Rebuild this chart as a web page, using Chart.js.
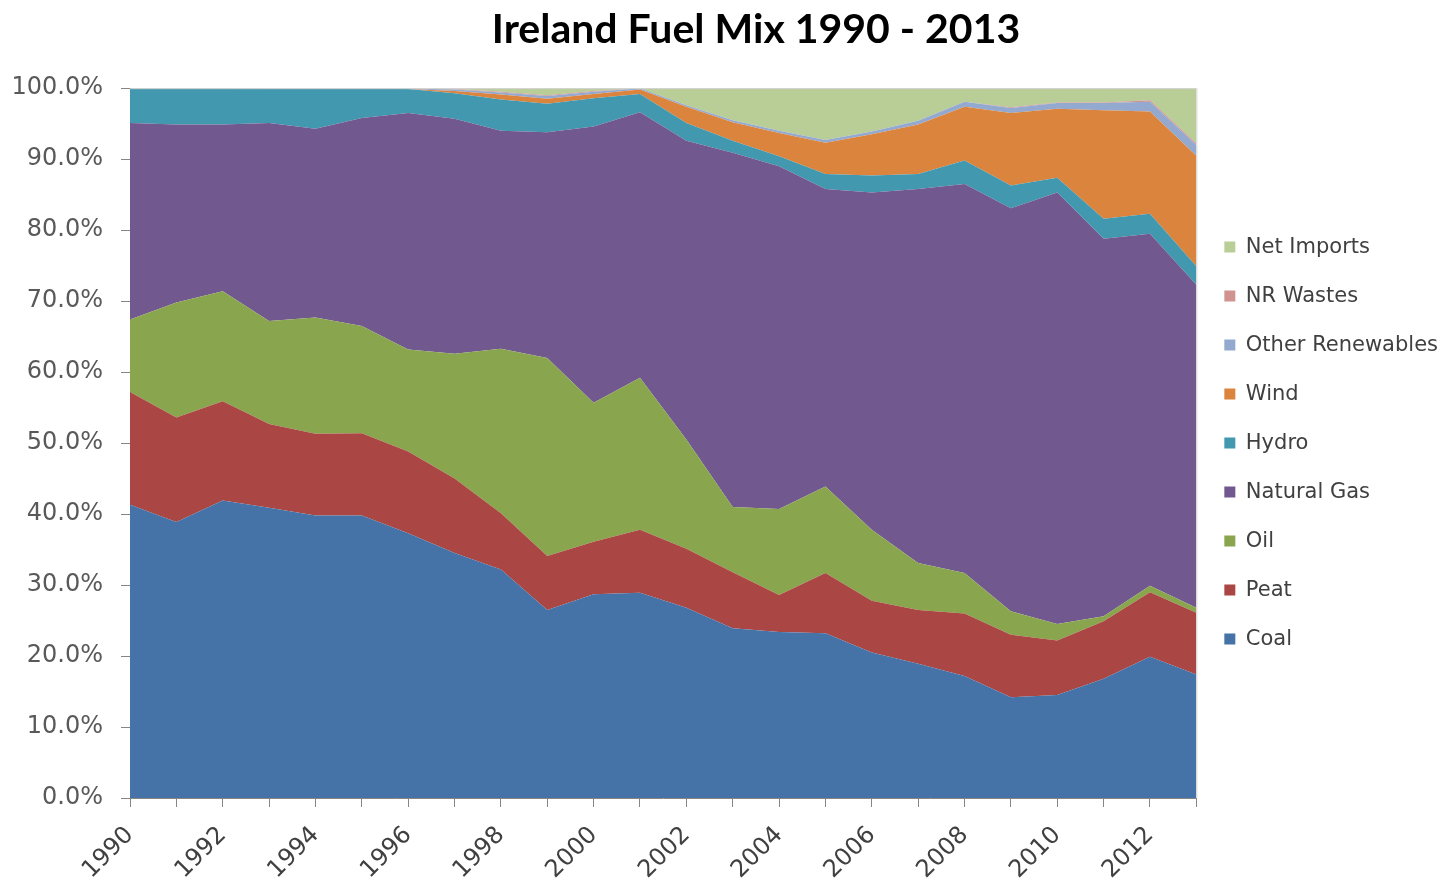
<!DOCTYPE html>
<html>
<head>
<meta charset="utf-8">
<title>Ireland Fuel Mix 1990 - 2013</title>
<script src="https://cdn.jsdelivr.net/npm/chart.js"></script>
<style>
    body { margin: 0; background: #ffffff; }
    #fuelChart { display: block; }
</style>
</head>
<body>
<canvas id="fuelChart" width="1450" height="885"></canvas>
<script>
// Porcentajes (cada serie es su propia franja, no acumulada)
const years = ['1990', '1991', '1992', '1993', '1994', '1995', '1996', '1997', '1998', '1999', '2000', '2001',
               '2002', '2003', '2004', '2005', '2006', '2007', '2008', '2009', '2010', '2011', '2012', '2013'];

const coal = [41.3, 38.9, 41.9, 40.9, 39.8, 39.8, 37.3, 34.5, 32.2, 26.5, 28.7, 28.9,
              26.8, 23.9, 23.4, 23.2, 20.5, 18.9, 17.2, 14.2, 14.5, 16.8, 19.9, 17.4];
const peat = [15.9, 14.7, 14.0, 11.8, 11.5, 11.6, 11.5, 10.5, 7.9, 7.6, 7.4, 8.9,
              8.3, 7.9, 5.2, 8.5, 7.3, 7.6, 8.8, 8.8, 7.7, 8.1, 9.1, 8.7];
const oil = [10.2, 16.2, 15.5, 14.5, 16.4, 15.1, 14.4, 17.6, 23.2, 27.9, 19.6, 21.4,
             15.4, 9.2, 12.1, 12.2, 10.0, 6.6, 5.7, 3.3, 2.3, 0.7, 0.9, 0.7];
const naturalGas = [27.7, 25.1, 23.5, 27.9, 26.6, 29.3, 33.3, 33.1, 30.7, 31.8, 38.9, 37.4,
                    42.1, 49.9, 48.3, 41.9, 47.5, 52.7, 54.8, 56.8, 60.8, 53.2, 49.6, 45.5];
const hydro = [4.9, 5.1, 5.1, 4.8, 5.6, 4.1, 3.4, 3.6, 4.4, 4.0, 4.0, 2.6,
               2.5, 1.7, 1.4, 2.1, 2.4, 2.1, 3.3, 3.2, 2.1, 2.8, 2.8, 2.6];
const wind = [0, 0, 0, 0, 0, 0, 0, 0.3, 0.7, 0.7, 0.6, 0.6,
              2.3, 2.6, 3.3, 4.4, 5.8, 7.0, 7.6, 10.2, 9.7, 15.3, 14.4, 15.6];
const otherRenewables = [0, 0, 0, 0.1, 0.1, 0.1, 0.1, 0.2, 0.3, 0.4, 0.3, 0.2,
                         0.2, 0.3, 0.3, 0.4, 0.4, 0.5, 0.7, 0.7, 0.8, 1.0, 1.4, 1.5];
const nrWastes = [0, 0, 0, 0, 0, 0, 0, 0.1, 0.1, 0.1, 0.1, 0,
                  0, 0, 0, 0, 0, 0, 0, 0.1, 0.1, 0.1, 0.2, 0.2];
const netImports = [0, 0, 0, 0, 0, 0, 0, 0.1, 0.5, 1.0, 0.4, 0,
                    2.4, 4.5, 6.0, 7.3, 6.1, 4.6, 1.9, 2.7, 2.0, 2.0, 1.7, 7.8];

const yTicks = [0, 10, 20, 30, 40, 50, 60, 70, 80, 90, 100];

const series = [
    { label: 'Coal', data: coal, color: '#4572a7' },
    { label: 'Peat', data: peat, color: '#aa4643' },
    { label: 'Oil', data: oil, color: '#89a54e' },
    { label: 'Natural Gas', data: naturalGas, color: '#71588f' },
    { label: 'Hydro', data: hydro, color: '#4198af' },
    { label: 'Wind', data: wind, color: '#db843d' },
    { label: 'Other Renewables', data: otherRenewables, color: '#93a9cf' },
    { label: 'NR Wastes', data: nrWastes, color: '#d19392' },
    { label: 'Net Imports', data: netImports, color: '#b9cd96' }
];

const axisGrey = '#868686';

// Borde fino arriba y a la derecha del area de trazado; el titulo va un poco a la derecha como en el original
const plotBorder =
{
    id: 'plotBorder',
    afterLayout: (chart) =>
    {
        chart.titleBlock.left = 64;
    },
    afterDatasetsDraw: (chart) =>
    {
        const { ctx, chartArea } = chart;
        ctx.save();
        ctx.strokeStyle = '#cfcfcf';
        ctx.lineWidth = 1;
        ctx.beginPath();
        ctx.moveTo(chartArea.left, chartArea.top + 0.5);
        ctx.lineTo(chartArea.right, chartArea.top + 0.5);
        ctx.moveTo(chartArea.right + 0.5, chartArea.top);
        ctx.lineTo(chartArea.right + 0.5, chartArea.bottom);
        ctx.stroke();
        ctx.restore();
    }
};

const initChart = () =>
{
    const ctx = document.getElementById('fuelChart');

    const data =
    {
        labels: years,
        datasets: series.map((s, i) =>
        ({
            label: s.label,
            data: s.data,
            backgroundColor: s.color,
            borderColor: s.color,
            borderWidth: 0,
            pointRadius: 0,
            tension: 0,
            fill: i === 0 ? 'origin' : '-1'
        }))
    };

    new Chart(ctx,
    {
        type: 'line',
        data: data,
        plugins: [plotBorder],
        options:
        {
            responsive: false,
            animation: false,
            devicePixelRatio: 1,
            layout: { padding: { left: 0, right: 2, top: 0, bottom: 0 } },
            plugins:
            {
                title:
                {
                    display: true,
                    text: 'Ireland Fuel Mix 1990 - 2013',
                    color: '#000000',
                    font: { family: 'Lato', size: 41, weight: 'bold' },
                    padding: { top: 5, bottom: 34 }
                },
                legend:
                {
                    position: 'right',
                    reverse: true,
                    fullSize: false,
                    labels:
                    {
                        boxWidth: 11,
                        boxHeight: 11,
                        padding: 28,
                        color: '#404040',
                        font: { family: 'DejaVu Sans', size: 21 }
                    }
                },
                tooltip: { enabled: false }
            },
            scales:
            {
                x:
                {
                    afterFit: (scale) => { scale.height = 87; },
                    grid: { display: true, drawOnChartArea: false, drawTicks: true, tickLength: 9, color: axisGrey },
                    border: { color: axisGrey },
                    ticks:
                    {
                        autoSkip: false,
                        maxRotation: 45,
                        minRotation: 45,
                        padding: 14,
                        color: '#404040',
                        font: { family: 'DejaVu Sans', size: 24 },
                        callback: (value, index) => index % 2 === 0 ? years[index] : ''
                    }
                },
                y:
                {
                    stacked: true,
                    min: 0,
                    max: 100,
                    afterFit: (scale) => { scale.width = 130; },
                    afterBuildTicks: (scale) => { scale.ticks = yTicks.map((v) => ({ value: v })); },
                    grid: { display: true, drawOnChartArea: false, drawTicks: true, tickLength: 9, color: axisGrey },
                    border: { color: axisGrey },
                    ticks:
                    {
                        padding: 18,
                        color: '#595959',
                        font: { family: 'DejaVu Sans', size: 24 },
                        callback: (value) => value.toFixed(1) + '%'
                    }
                }
            }
        }
    });
};

initChart();
</script>
</body>
</html>
